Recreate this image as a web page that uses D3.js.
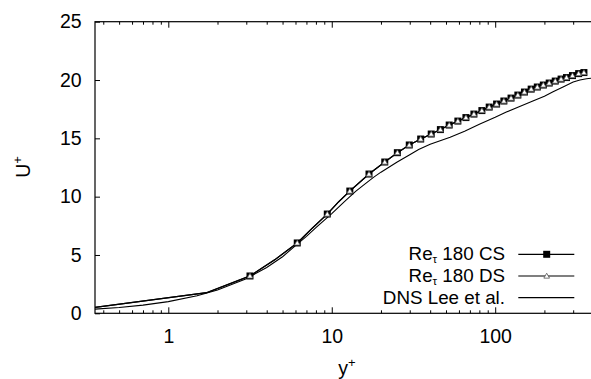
<!DOCTYPE html>
<html>
<head>
<meta charset="utf-8">
<script src="https://cdn.jsdelivr.net/npm/d3@7"></script>
<style>
  html, body { margin: 0; padding: 0; background: #fff; }
  svg { display: block; }
  text { font-family: "Liberation Sans", Arial, Helvetica, sans-serif; fill: #000; }
</style>
</head>
<body>
<svg id="chart" width="591" height="379"></svg>
<script>
// ---- Data ----
// Simulation Re_tau 180 CS: marker positions
const csMarkY = [3.16, 6.15, 9.39, 12.9, 16.9, 21.1, 25.2, 29.8, 35.0, 40.6, 46.2, 52.3, 59.1, 66.2, 74.1, 82.9, 91.9, 102, 113, 125, 137.6, 151, 166, 181, 197, 214, 233, 253, 273, 297, 324, 349];
const csMarkU = [3.20, 6.03, 8.51, 10.48, 11.94, 12.97, 13.77, 14.43, 14.94, 15.37, 15.75, 16.14, 16.48, 16.78, 17.08, 17.38, 17.68, 17.94, 18.20, 18.45, 18.71, 18.97, 19.22, 19.40, 19.57, 19.74, 19.91, 20.08, 20.21, 20.38, 20.55, 20.64];
// extra (unmarked) line points of the simulation near the wall
const csLineY = [0.356, 1.72, 4.49, 7.6, 11.0];
const csLineU = [0.51, 1.77, 4.60, 7.30, 9.55];
// Simulation Re_tau 180 DS (overlaps CS)
const dsMarkY = csMarkY.slice();
const dsMarkU = csMarkU.slice();
const dsLineY = csLineY.slice();
const dsLineU = csLineU.slice();
// DNS Lee et al.
const dnsY = [0.356, 0.5, 0.7, 1, 1.5, 2, 3, 4, 5, 6, 7, 8, 10, 12, 14, 16, 18, 20, 25, 30, 34, 40, 53, 65, 80, 100, 117, 140, 170, 200, 226, 260, 300, 330, 362, 400];
const dnsU = [0.36, 0.5, 0.7, 1.0, 1.5, 2.0, 2.97, 3.93, 4.85, 5.8, 6.6, 7.35, 8.55, 9.6, 10.45, 11.1, 11.65, 12.1, 12.95, 13.6, 14.05, 14.5, 15.1, 15.6, 16.2, 16.8, 17.25, 17.7, 18.2, 18.6, 19.0, 19.4, 19.83, 20.0, 20.11, 20.18];

const xMajorTicks = [1, 10, 100];
const xMinorTicks = [0.4, 0.5, 0.6, 0.7, 0.8, 0.9, 2, 3, 4, 5, 6, 7, 8, 9, 20, 30, 40, 50, 60, 70, 80, 90, 200, 300, 400];
const yTicks = [0, 5, 10, 15, 20, 25];
const legendNames = ["180 CS", "180 DS", "DNS Lee et al."];

// ---- Layout ----
const L = 95, R = 593.6, T = 21.7, B = 313.3;
const FS = 19.5, LFS = 18.8;

const svg = d3.select("#chart");
const x = d3.scaleLog().domain([0.356, 400]).range([L, R]);
const y = d3.scaleLinear().domain([0, 25]).range([B, T]);

function zip(a, b) { return a.map((v, i) => [v, b[i]]); }
function merge(ly, lu, my, mu) {
  return zip(ly, lu).concat(zip(my, mu)).sort((p, q) => p[0] - q[0]);
}

svg.append("defs").append("clipPath").attr("id", "clip")
  .append("rect").attr("x", L).attr("y", T).attr("width", R - L).attr("height", B - T);

// Axes
const gx = svg.append("g").attr("transform", `translate(0,${B})`)
  .call(d3.axisBottom(x).tickValues(xMajorTicks).tickFormat(d3.format("d")).tickSizeInner(-6).tickSizeOuter(0).tickPadding(15.5));
const gxm = svg.append("g").attr("transform", `translate(0,${B})`)
  .call(d3.axisBottom(x).tickValues(xMinorTicks).tickFormat("").tickSizeInner(-3).tickSizeOuter(0));
const gxt = svg.append("g").attr("transform", `translate(0,${T})`)
  .call(d3.axisTop(x).tickValues(xMajorTicks).tickFormat("").tickSizeInner(-6).tickSizeOuter(0));
const gxtm = svg.append("g").attr("transform", `translate(0,${T})`)
  .call(d3.axisTop(x).tickValues(xMinorTicks).tickFormat("").tickSizeInner(-3).tickSizeOuter(0));
const gy = svg.append("g").attr("transform", `translate(${L},0)`)
  .call(d3.axisLeft(y).tickValues(yTicks).tickSizeInner(-5).tickSizeOuter(0).tickPadding(13.3));

[gx, gxm, gxt, gxtm, gy].forEach(g => {
  g.select(".domain").remove();
  g.selectAll("line").attr("stroke", "#000").attr("stroke-width", 1);
  g.selectAll("text").style("font-size", FS + "px").style("font-family", '"Liberation Sans", Arial, sans-serif').attr("fill", "#000");
});

// Border
svg.append("rect").attr("x", L).attr("y", T).attr("width", R - L).attr("height", B - T)
  .attr("fill", "none").attr("stroke", "#000").attr("stroke-width", 1.2);

// Lines
const line = d3.line().x(d => x(d[0])).y(d => y(d[1]));
const plot = svg.append("g").attr("clip-path", "url(#clip)");

plot.append("path").datum(dnsY.map((v, i) => [v, dnsU[i]]))
  .attr("d", line).attr("fill", "none").attr("stroke", "#000").attr("stroke-width", 1.1);
plot.append("path").datum(merge(csLineY, csLineU, csMarkY, csMarkU))
  .attr("d", line).attr("fill", "none").attr("stroke", "#000").attr("stroke-width", 1.3);
plot.append("path").datum(merge(dsLineY, dsLineU, dsMarkY, dsMarkU))
  .attr("d", line).attr("fill", "none").attr("stroke", "#000").attr("stroke-width", 1.1);

const sq = 7;
plot.selectAll("rect.cs").data(zip(csMarkY, csMarkU)).enter().append("rect")
  .attr("x", d => x(d[0]) - sq / 2).attr("y", d => y(d[1]) - sq / 2)
  .attr("width", sq).attr("height", sq).attr("fill", "#000");
const tri = d3.symbol().type(d3.symbolTriangle).size(14);
plot.selectAll("path.ds").data(zip(dsMarkY, dsMarkU)).enter().append("path")
  .attr("d", tri).attr("transform", d => `translate(${x(d[0])},${y(d[1]) + 0.5})`)
  .attr("fill", "#fff").attr("stroke", "#555").attr("stroke-width", 0.8);

// Axis titles
const yl = svg.append("text").attr("transform", "translate(30,167) rotate(-90)")
  .attr("text-anchor", "middle").style("font-size", FS + "px");
yl.append("tspan").text("U");
yl.append("tspan").attr("dy", -8).style("font-size", "13px").text("+");

const xl = svg.append("text").attr("x", 347).attr("y", 374.5)
  .attr("text-anchor", "middle").style("font-size", FS + "px");
xl.append("tspan").text("y");
xl.append("tspan").attr("dy", -8).style("font-size", "13px").text("+");

// Legend
const legRows = [254.3, 276, 297.7];
const legBase = [259.8, 281.6, 304.4];
const textRight = 505, lx1 = 518.3, lx2 = 574.3, mx = 546.7;
legendNames.forEach((name, i) => {
  const t = svg.append("text").attr("x", textRight).attr("y", legBase[i])
    .attr("text-anchor", "end").style("font-size", LFS + "px");
  if (i < 2) {
    t.append("tspan").text("Re");
    t.append("tspan").attr("dy", 3).style("font-size", "11.5px").text("τ");
    t.append("tspan").attr("dy", -3).text(" " + name);
  } else {
    t.text(name);
  }
  svg.append("line").attr("x1", lx1).attr("x2", lx2).attr("y1", legRows[i]).attr("y2", legRows[i])
    .attr("stroke", "#000").attr("stroke-width", 1.2);
});
svg.append("rect").attr("x", mx - sq / 2).attr("y", legRows[0] - sq / 2).attr("width", sq).attr("height", sq).attr("fill", "#000");
svg.append("path").attr("d", tri).attr("transform", `translate(${mx},${legRows[1] + 0.5})`)
  .attr("fill", "#fff").attr("stroke", "#555").attr("stroke-width", 0.8);
</script>
</body>
</html>
